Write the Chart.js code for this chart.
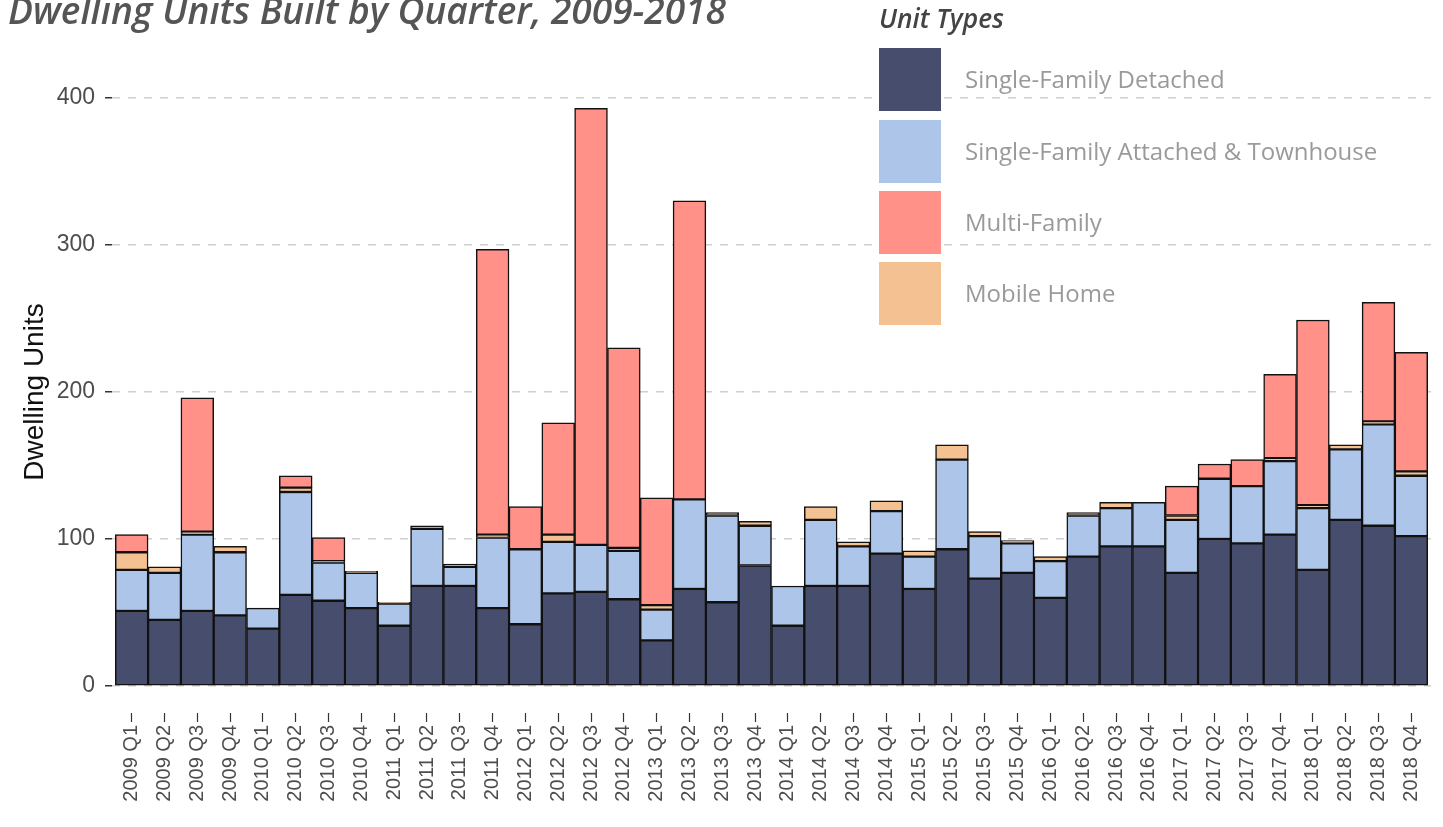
<!DOCTYPE html>
<html lang="en">
<head>
    <meta charset="UTF-8">
    <title>Dwelling Units Built by Quarter, 2009-2018</title>
    <script src="https://cdn.jsdelivr.net/npm/chart.js"></script>
    <style>
        html, body { margin: 0; padding: 0; background: #fff; }
    </style>
</head>
<body>
    <canvas id="myChart" width="1443" height="827"></canvas>

    <script>
        // quarter labels along the x axis
        var quarters = [
            '2009 Q1', '2009 Q2', '2009 Q3', '2009 Q4', '2010 Q1', '2010 Q2', '2010 Q3', '2010 Q4',
            '2011 Q1', '2011 Q2', '2011 Q3', '2011 Q4', '2012 Q1', '2012 Q2', '2012 Q3', '2012 Q4',
            '2013 Q1', '2013 Q2', '2013 Q3', '2013 Q4', '2014 Q1', '2014 Q2', '2014 Q3', '2014 Q4',
            '2015 Q1', '2015 Q2', '2015 Q3', '2015 Q4', '2016 Q1', '2016 Q2', '2016 Q3', '2016 Q4',
            '2017 Q1', '2017 Q2', '2017 Q3', '2017 Q4', '2018 Q1', '2018 Q2', '2018 Q3', '2018 Q4'
        ];

        // units per quarter
        var sfDetached = [51, 45, 51, 48, 39, 62, 58, 53, 41, 68, 68, 53, 42, 63, 64, 59, 31, 66, 57, 82,
                          41, 68, 68, 90, 66, 93, 73, 77, 60, 88, 95, 95, 77, 100, 97, 103, 79, 113, 109, 102];
        var sfAttached = [28, 32, 52, 43, 14, 70, 26, 24, 15, 39, 13, 48, 51, 35, 32, 33, 21, 61, 59, 27,
                          27, 45, 27, 29, 22, 61, 29, 20, 25, 28, 26, 30, 36, 41, 39, 50, 42, 48, 69, 41];
        var multiFamily = [12, 0, 91, 0, 0, 8, 16, 0, 0, 0, 0, 194, 29, 76, 297, 136, 73, 203, 0, 0,
                           0, 0, 0, 0, 0, 0, 0, 0, 0, 0, 0, 0, 20, 10, 18, 57, 126, 0, 81, 81];
        var mobileHome = [12, 4, 2, 4, 0, 3, 1, 1, 1, 2, 2, 2, 0, 5, 0, 2, 3, 0, 2, 3,
                          0, 9, 3, 7, 4, 10, 3, 2, 3, 2, 4, 0, 3, 0, 0, 2, 2, 3, 2, 3];

        var yTicks = [0, 100, 200, 300, 400];

        var colors = {
            sfd: '#474d6d',
            sfa: '#aec5ea',
            mf: '#ff9189',
            mh: '#f4c292'
        };

        // legend order differs from stack order
        var legendItems = [
            ['Single-Family Detached', colors.sfd],
            ['Single-Family Attached & Townhouse', colors.sfa],
            ['Multi-Family', colors.mf],
            ['Mobile Home', colors.mh]
        ];

        function toPoints(values) {
            return values.map(function(v, i) { return { x: i + 1, y: v }; });
        }

        function barSet(label, values, color) {
            return {
                label: label,
                data: toPoints(values),
                backgroundColor: color,
                borderColor: '#111',
                borderWidth: 1.5,
                borderSkipped: false,
                barPercentage: 1,
                categoryPercentage: 1
            };
        }

        // title + legend drawn by hand so they sit where the original has them
        var decor = {
            id: 'decor',
            afterDraw: function(chart) {
                var ctx = chart.ctx;
                ctx.save();
                ctx.fillStyle = '#555';
                ctx.textBaseline = 'alphabetic';
                ctx.textAlign = 'left';
                var title = 'Dwelling Units Built by Quarter, 2009-2018';
                ctx.font = 'italic 600 30px "Open Sans"';
                var size = 30 * 719 / ctx.measureText(title).width;
                ctx.font = 'italic 600 ' + size.toFixed(1) + 'px "Open Sans"';
                ctx.fillText(title, 8, 24);

                ctx.fillStyle = '#444';
                ctx.font = 'italic 600 22px "Open Sans"';
                var s2 = 22 * 125 / ctx.measureText('Unit Types').width;
                ctx.font = 'italic 600 ' + s2.toFixed(1) + 'px "Open Sans"';
                ctx.fillText('Unit Types', 879, 28);

                var tops = [48, 120, 191, 262];
                ctx.font = '24px "Open Sans"';
                ctx.textBaseline = 'middle';
                legendItems.forEach(function(item, i) {
                    ctx.fillStyle = item[1];
                    ctx.fillRect(879, tops[i], 62, 63);
                    ctx.fillStyle = '#9a9a9a';
                    ctx.fillText(item[0], 965, tops[i] + 33);
                });
                ctx.restore();
            }
        };

        var ctx = document.getElementById('myChart').getContext('2d');
        var myChart = new Chart(ctx, {
            type: 'bar',
            data: {
                datasets: [
                    barSet('Single-Family Detached', sfDetached, colors.sfd),
                    barSet('Single-Family Attached & Townhouse', sfAttached, colors.sfa),
                    barSet('Mobile Home', mobileHome, colors.mh),
                    barSet('Multi-Family', multiFamily, colors.mf)
                ]
            },
            options: {
                responsive: false,
                animation: false,
                devicePixelRatio: 1,
                layout: { padding: { top: 71, right: 12, left: 0, bottom: 0 } },
                plugins: {
                    legend: { display: false },
                    tooltip: { enabled: false },
                    title: { display: false }
                },
                scales: {
                    x: {
                        type: 'linear',
                        stacked: true,
                        min: 0.4,
                        max: 40.6,
                        bounds: 'data',
                        offset: false,
                        afterBuildTicks: function(scale) {
                            scale.ticks = quarters.map(function(q, i) { return { value: i + 1 }; });
                        },
                        afterFit: function(scale) { scale.height = 114; },
                        ticks: {
                            autoSkip: false,
                            minRotation: 90,
                            maxRotation: 90,
                            padding: 3,
                            color: '#4d4d4d',
                            font: { family: 'Liberation Sans', size: 20 },
                            callback: function(value) { return quarters[value - 1]; }
                        },
                        grid: {
                            offset: false,
                            drawOnChartArea: false,
                            tickLength: 9,
                            tickColor: '#333',
                            tickWidth: 1.2
                        },
                        border: { display: false }
                    },
                    y: {
                        stacked: true,
                        min: -18.37,
                        max: 418.37,
                        bounds: 'data',
                        afterBuildTicks: function(scale) {
                            scale.ticks = yTicks.map(function(v) { return { value: v }; });
                        },
                        afterFit: function(scale) { scale.width = 112; },
                        ticks: {
                            padding: 10,
                            color: '#4d4d4d',
                            font: { family: 'Liberation Sans', size: 23 }
                        },
                        grid: {
                            color: '#cfcfcf',
                            lineWidth: 1.5,
                            tickLength: 7,
                            tickColor: '#333',
                            tickWidth: 1.5,
                            tickBorderDash: []
                        },
                        border: { display: false, dash: [8, 8] },
                        title: {
                            display: true,
                            text: 'Dwelling Units',
                            color: '#111',
                            font: { family: 'Liberation Sans', size: 28 },
                            padding: { top: 18, bottom: 0 }
                        }
                    }
                }
            },
            plugins: [decor]
        });
    </script>
</body>
</html>
